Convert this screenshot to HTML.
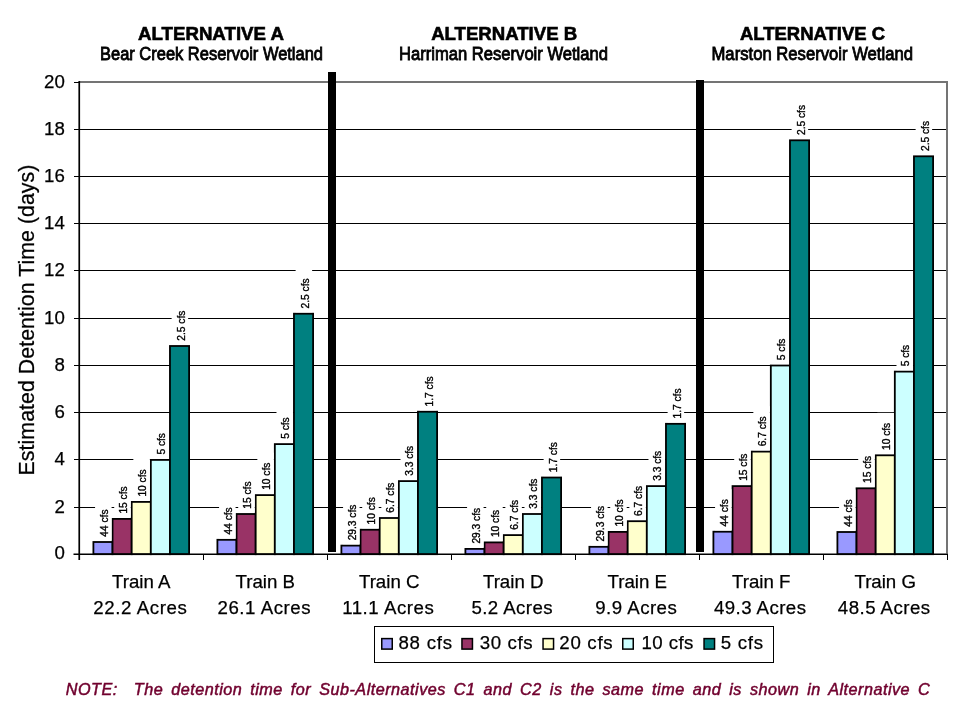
<!DOCTYPE html>
<html lang="en">
<head>
<meta charset="utf-8">
<title>Estimated Detention Time</title>
<style>
html,body{margin:0;padding:0;background:#fff;}
body{width:960px;height:720px;overflow:hidden;}
svg{display:block;}
text{font-family:"Liberation Sans",Arial,sans-serif;fill:#000;}
.ax{font-size:18.67px;stroke:#000;stroke-width:0.25px;}
.dl{font-size:10.2px;stroke:#000;stroke-width:0.35px;}
.tb{font-size:18.67px;font-weight:bold;stroke:#000;stroke-width:0.6px;}
.ts{font-size:18.67px;}
.note{font-size:16.2px;font-style:italic;fill:#70002e;stroke:#70002e;stroke-width:0.5px;letter-spacing:0.49px;word-spacing:3.05px;}
</style>
</head>
<body>
<svg width="960" height="720" viewBox="0 0 960 720">
<rect x="0" y="0" width="960" height="720" fill="#ffffff"/>
<g stroke="#000" stroke-width="1" shape-rendering="crispEdges">
<line x1="79" y1="507.5" x2="947" y2="507.5"/>
<line x1="79" y1="459.5" x2="947" y2="459.5"/>
<line x1="79" y1="412.5" x2="947" y2="412.5"/>
<line x1="79" y1="365.5" x2="947" y2="365.5"/>
<line x1="79" y1="318.5" x2="947" y2="318.5"/>
<line x1="79" y1="270.5" x2="947" y2="270.5"/>
<line x1="79" y1="223.5" x2="947" y2="223.5"/>
<line x1="79" y1="176.5" x2="947" y2="176.5"/>
<line x1="79" y1="129.5" x2="947" y2="129.5"/>
</g>
<g stroke="#747474" stroke-width="2" fill="none">
<line x1="79" y1="82" x2="948" y2="82"/>
<line x1="947" y1="81" x2="947" y2="553.4"/>
</g>
<g stroke="#000" stroke-width="1.8">
<rect x="93.40" y="542.00" width="19.14" height="12.20" fill="#9999FF"/>
<rect x="112.54" y="518.90" width="19.14" height="35.30" fill="#993366"/>
<rect x="131.68" y="501.90" width="19.14" height="52.30" fill="#FFFFCC"/>
<rect x="150.82" y="459.90" width="19.14" height="94.30" fill="#CCFFFF"/>
<rect x="169.96" y="346.00" width="19.14" height="208.20" fill="#008080"/>
</g>
<g stroke="#000" stroke-width="1.8">
<rect x="217.40" y="539.80" width="19.14" height="14.40" fill="#9999FF"/>
<rect x="236.54" y="514.00" width="19.14" height="40.20" fill="#993366"/>
<rect x="255.68" y="495.10" width="19.14" height="59.10" fill="#FFFFCC"/>
<rect x="274.82" y="444.10" width="19.14" height="110.10" fill="#CCFFFF"/>
<rect x="293.96" y="313.70" width="19.14" height="240.50" fill="#008080"/>
</g>
<g stroke="#000" stroke-width="1.8">
<rect x="341.40" y="545.60" width="19.14" height="8.60" fill="#9999FF"/>
<rect x="360.54" y="529.70" width="19.14" height="24.50" fill="#993366"/>
<rect x="379.68" y="518.00" width="19.14" height="36.20" fill="#FFFFCC"/>
<rect x="398.82" y="481.10" width="19.14" height="73.10" fill="#CCFFFF"/>
<rect x="417.96" y="411.70" width="19.14" height="142.50" fill="#008080"/>
</g>
<g stroke="#000" stroke-width="1.8">
<rect x="465.40" y="548.90" width="19.14" height="5.30" fill="#9999FF"/>
<rect x="484.54" y="542.40" width="19.14" height="11.80" fill="#993366"/>
<rect x="503.68" y="535.10" width="19.14" height="19.10" fill="#FFFFCC"/>
<rect x="522.82" y="514.00" width="19.14" height="40.20" fill="#CCFFFF"/>
<rect x="541.96" y="477.50" width="19.14" height="76.70" fill="#008080"/>
</g>
<g stroke="#000" stroke-width="1.8">
<rect x="589.40" y="546.80" width="19.14" height="7.40" fill="#9999FF"/>
<rect x="608.54" y="531.90" width="19.14" height="22.30" fill="#993366"/>
<rect x="627.68" y="521.20" width="19.14" height="33.00" fill="#FFFFCC"/>
<rect x="646.82" y="486.10" width="19.14" height="68.10" fill="#CCFFFF"/>
<rect x="665.96" y="423.80" width="19.14" height="130.40" fill="#008080"/>
</g>
<g stroke="#000" stroke-width="1.8">
<rect x="713.40" y="531.70" width="19.14" height="22.50" fill="#9999FF"/>
<rect x="732.54" y="486.10" width="19.14" height="68.10" fill="#993366"/>
<rect x="751.68" y="451.60" width="19.14" height="102.60" fill="#FFFFCC"/>
<rect x="770.82" y="365.50" width="19.14" height="188.70" fill="#CCFFFF"/>
<rect x="789.96" y="140.30" width="19.14" height="413.90" fill="#008080"/>
</g>
<g stroke="#000" stroke-width="1.8">
<rect x="837.40" y="532.00" width="19.14" height="22.20" fill="#9999FF"/>
<rect x="856.54" y="488.30" width="19.14" height="65.90" fill="#993366"/>
<rect x="875.68" y="455.30" width="19.14" height="98.90" fill="#FFFFCC"/>
<rect x="894.82" y="371.60" width="19.14" height="182.60" fill="#CCFFFF"/>
<rect x="913.96" y="156.30" width="19.14" height="397.90" fill="#008080"/>
</g>
<g stroke="#000" stroke-width="1.7">
<line x1="79.25" y1="81" x2="79.25" y2="560"/>
<line x1="73.5" y1="554.25" x2="948" y2="554.25"/>
<line x1="73.5" y1="507.5" x2="79" y2="507.5" stroke-width="1" shape-rendering="crispEdges"/>
<line x1="73.5" y1="459.5" x2="79" y2="459.5" stroke-width="1" shape-rendering="crispEdges"/>
<line x1="73.5" y1="412.5" x2="79" y2="412.5" stroke-width="1" shape-rendering="crispEdges"/>
<line x1="73.5" y1="365.5" x2="79" y2="365.5" stroke-width="1" shape-rendering="crispEdges"/>
<line x1="73.5" y1="318.5" x2="79" y2="318.5" stroke-width="1" shape-rendering="crispEdges"/>
<line x1="73.5" y1="270.5" x2="79" y2="270.5" stroke-width="1" shape-rendering="crispEdges"/>
<line x1="73.5" y1="223.5" x2="79" y2="223.5" stroke-width="1" shape-rendering="crispEdges"/>
<line x1="73.5" y1="176.5" x2="79" y2="176.5" stroke-width="1" shape-rendering="crispEdges"/>
<line x1="73.5" y1="129.5" x2="79" y2="129.5" stroke-width="1" shape-rendering="crispEdges"/>
<line x1="73.5" y1="82.5" x2="79" y2="82.5" stroke-width="1" shape-rendering="crispEdges"/>
<line x1="203.5" y1="554" x2="203.5" y2="560" stroke-width="1" shape-rendering="crispEdges"/>
<line x1="327.5" y1="554" x2="327.5" y2="560" stroke-width="1" shape-rendering="crispEdges"/>
<line x1="451.5" y1="554" x2="451.5" y2="560" stroke-width="1" shape-rendering="crispEdges"/>
<line x1="575.5" y1="554" x2="575.5" y2="560" stroke-width="1" shape-rendering="crispEdges"/>
<line x1="699.5" y1="554" x2="699.5" y2="560" stroke-width="1" shape-rendering="crispEdges"/>
<line x1="823.5" y1="554" x2="823.5" y2="560" stroke-width="1" shape-rendering="crispEdges"/>
<line x1="947.5" y1="554" x2="947.5" y2="560" stroke-width="1" shape-rendering="crispEdges"/>
</g>
<g fill="#fff">
<rect x="95.07" y="499.53" width="16.5" height="41.07"/>
<rect x="114.21" y="476.43" width="16.5" height="41.07"/>
<rect x="133.35" y="458.83" width="16.5" height="41.67"/>
<rect x="152.49" y="423.36" width="16.5" height="35.14"/>
<rect x="171.63" y="300.57" width="16.5" height="44.03"/>
<rect x="219.07" y="497.33" width="16.5" height="41.07"/>
<rect x="238.21" y="471.53" width="16.5" height="41.07"/>
<rect x="257.35" y="452.63" width="16.5" height="41.07"/>
<rect x="276.49" y="407.56" width="16.5" height="35.14"/>
<rect x="295.63" y="268.27" width="16.5" height="44.03"/>
<rect x="343.07" y="494.23" width="16.5" height="49.97"/>
<rect x="362.21" y="487.23" width="16.5" height="41.07"/>
<rect x="381.35" y="472.57" width="16.5" height="44.03"/>
<rect x="400.49" y="435.67" width="16.5" height="44.03"/>
<rect x="419.63" y="366.27" width="16.5" height="44.03"/>
<rect x="467.07" y="497.53" width="16.5" height="49.97"/>
<rect x="486.21" y="499.93" width="16.5" height="41.07"/>
<rect x="505.35" y="489.67" width="16.5" height="44.03"/>
<rect x="524.49" y="468.57" width="16.5" height="44.03"/>
<rect x="543.63" y="432.07" width="16.5" height="44.03"/>
<rect x="591.07" y="495.43" width="16.5" height="49.97"/>
<rect x="610.21" y="489.43" width="16.5" height="41.07"/>
<rect x="629.35" y="475.77" width="16.5" height="44.03"/>
<rect x="648.49" y="440.67" width="16.5" height="44.03"/>
<rect x="667.63" y="378.37" width="16.5" height="44.03"/>
<rect x="715.07" y="489.23" width="16.5" height="41.07"/>
<rect x="734.21" y="443.63" width="16.5" height="41.07"/>
<rect x="753.35" y="406.17" width="16.5" height="44.03"/>
<rect x="772.49" y="328.96" width="16.5" height="35.14"/>
<rect x="791.63" y="94.87" width="16.5" height="44.03"/>
<rect x="839.07" y="489.53" width="16.5" height="41.07"/>
<rect x="858.21" y="445.83" width="16.5" height="41.07"/>
<rect x="877.35" y="412.83" width="16.5" height="41.07"/>
<rect x="896.49" y="335.06" width="16.5" height="35.14"/>
<rect x="915.63" y="110.87" width="16.5" height="44.03"/>
</g>
<g class="dl">
<text class="dl" transform="translate(107.97 536.70) rotate(-90)">44 cfs</text>
<text class="dl" transform="translate(127.11 513.60) rotate(-90)">15 cfs</text>
<text class="dl" transform="translate(146.25 496.60) rotate(-90)">10 cfs</text>
<text class="dl" transform="translate(165.39 454.60) rotate(-90)">5 cfs</text>
<text class="dl" transform="translate(184.53 340.70) rotate(-90)">2.5 cfs</text>
<text class="dl" transform="translate(231.97 534.50) rotate(-90)">44 cfs</text>
<text class="dl" transform="translate(251.11 508.70) rotate(-90)">15 cfs</text>
<text class="dl" transform="translate(270.25 489.80) rotate(-90)">10 cfs</text>
<text class="dl" transform="translate(289.39 438.80) rotate(-90)">5 cfs</text>
<text class="dl" transform="translate(308.53 308.40) rotate(-90)">2.5 cfs</text>
<text class="dl" transform="translate(355.97 540.30) rotate(-90)">29.3 cfs</text>
<text class="dl" transform="translate(375.11 524.40) rotate(-90)">10 cfs</text>
<text class="dl" transform="translate(394.25 512.70) rotate(-90)">6.7 cfs</text>
<text class="dl" transform="translate(413.39 475.80) rotate(-90)">3.3 cfs</text>
<text class="dl" transform="translate(432.53 406.40) rotate(-90)">1.7 cfs</text>
<text class="dl" transform="translate(479.97 543.60) rotate(-90)">29.3 cfs</text>
<text class="dl" transform="translate(499.11 537.10) rotate(-90)">10 cfs</text>
<text class="dl" transform="translate(518.25 529.80) rotate(-90)">6.7 cfs</text>
<text class="dl" transform="translate(537.39 508.70) rotate(-90)">3.3 cfs</text>
<text class="dl" transform="translate(556.53 472.20) rotate(-90)">1.7 cfs</text>
<text class="dl" transform="translate(603.97 541.50) rotate(-90)">29.3 cfs</text>
<text class="dl" transform="translate(623.11 526.60) rotate(-90)">10 cfs</text>
<text class="dl" transform="translate(642.25 515.90) rotate(-90)">6.7 cfs</text>
<text class="dl" transform="translate(661.39 480.80) rotate(-90)">3.3 cfs</text>
<text class="dl" transform="translate(680.53 418.50) rotate(-90)">1.7 cfs</text>
<text class="dl" transform="translate(727.97 526.40) rotate(-90)">44 cfs</text>
<text class="dl" transform="translate(747.11 480.80) rotate(-90)">15 cfs</text>
<text class="dl" transform="translate(766.25 446.30) rotate(-90)">6.7 cfs</text>
<text class="dl" transform="translate(785.39 360.20) rotate(-90)">5 cfs</text>
<text class="dl" transform="translate(804.53 135.00) rotate(-90)">2.5 cfs</text>
<text class="dl" transform="translate(851.97 526.70) rotate(-90)">44 cfs</text>
<text class="dl" transform="translate(871.11 483.00) rotate(-90)">15 cfs</text>
<text class="dl" transform="translate(890.25 450.00) rotate(-90)">10 cfs</text>
<text class="dl" transform="translate(909.39 366.30) rotate(-90)">5 cfs</text>
<text class="dl" transform="translate(928.53 151.00) rotate(-90)">2.5 cfs</text>
</g>
<rect x="328" y="72" width="8" height="480" fill="#000"/>
<rect x="696" y="80" width="8" height="472" fill="#000"/>
<g class="ax" text-anchor="end">
<text class="ax" x="64.8" y="559.3">0</text>
<text class="ax" x="64.8" y="512.6">2</text>
<text class="ax" x="64.8" y="464.6">4</text>
<text class="ax" x="64.8" y="417.6">6</text>
<text class="ax" x="64.8" y="370.6">8</text>
<text class="ax" x="64.8" y="323.6">10</text>
<text class="ax" x="64.8" y="275.6">12</text>
<text class="ax" x="64.8" y="228.6">14</text>
<text class="ax" x="64.8" y="181.6">16</text>
<text class="ax" x="64.8" y="134.6">18</text>
<text class="ax" x="64.8" y="87.6">20</text>
</g>
<text transform="translate(34.0 475.4) rotate(-90)" style="font-size:21.33px;stroke:#000;stroke-width:0.25px" textLength="310.8" lengthAdjust="spacing">Estimated Detention Time (days)</text>
<g class="ax" text-anchor="middle">
<text class="ax" x="141.2" y="587.6">Train A</text>
<text class="ax" x="140.0" y="614" textLength="93.5" lengthAdjust="spacing">22.2 Acres</text>
<text class="ax" x="265.2" y="587.6">Train B</text>
<text class="ax" x="264.0" y="614" textLength="93" lengthAdjust="spacing">26.1 Acres</text>
<text class="ax" x="389.2" y="587.6">Train C</text>
<text class="ax" x="388.0" y="614" textLength="91.7" lengthAdjust="spacing">11.1 Acres</text>
<text class="ax" x="513.2" y="587.6">Train D</text>
<text class="ax" x="512.0" y="614" textLength="81" lengthAdjust="spacing">5.2 Acres</text>
<text class="ax" x="637.2" y="587.6">Train E</text>
<text class="ax" x="636.0" y="614" textLength="81.6" lengthAdjust="spacing">9.9 Acres</text>
<text class="ax" x="761.2" y="587.6">Train F</text>
<text class="ax" x="760.0" y="614" textLength="92" lengthAdjust="spacing">49.3 Acres</text>
<text class="ax" x="885.2" y="587.6">Train G</text>
<text class="ax" x="884.0" y="614" textLength="92.3" lengthAdjust="spacing">48.5 Acres</text>
</g>
<text class="tb" x="138" y="39.5" textLength="146" lengthAdjust="spacingAndGlyphs">ALTERNATIVE A</text>
<text class="ts" x="100" y="59.6" textLength="223" lengthAdjust="spacingAndGlyphs" stroke="#000" stroke-width="0.85">Bear Creek Reservoir Wetland</text>
<text class="tb" x="431.2" y="39.5" textLength="146" lengthAdjust="spacingAndGlyphs">ALTERNATIVE B</text>
<text class="ts" x="399" y="59.6" textLength="209" lengthAdjust="spacingAndGlyphs" stroke="#000" stroke-width="0.85">Harriman Reservoir Wetland</text>
<text class="tb" x="740" y="39.5" textLength="145" lengthAdjust="spacingAndGlyphs">ALTERNATIVE C</text>
<text class="ts" x="711.5" y="59.6" textLength="201.5" lengthAdjust="spacingAndGlyphs" stroke="#000" stroke-width="0.85">Marston Reservoir Wetland</text>
<rect x="374.5" y="626.5" width="399" height="35.5" fill="#fff" stroke="#000" stroke-width="1" shape-rendering="crispEdges"/>
<rect x="381.75" y="638.6" width="10.5" height="10.5" fill="#9999FF" stroke="#000" stroke-width="1.5"/>
<text class="ax" x="398.4" y="649.3" textLength="53.7" lengthAdjust="spacing">88 cfs</text>
<rect x="461.95" y="638.6" width="10.5" height="10.5" fill="#993366" stroke="#000" stroke-width="1.5"/>
<text class="ax" x="479.7" y="649.3" textLength="52.8" lengthAdjust="spacing">30 cfs</text>
<rect x="543.05" y="638.6" width="10.5" height="10.5" fill="#FFFFCC" stroke="#000" stroke-width="1.5"/>
<text class="ax" x="559.3" y="649.3" textLength="53.3" lengthAdjust="spacing">20 cfs</text>
<rect x="622.75" y="638.6" width="10.5" height="10.5" fill="#CCFFFF" stroke="#000" stroke-width="1.5"/>
<text class="ax" x="641.4" y="649.3" textLength="52" lengthAdjust="spacing">10 cfs</text>
<rect x="704.05" y="638.6" width="10.5" height="10.5" fill="#008080" stroke="#000" stroke-width="1.5"/>
<text class="ax" x="720.8" y="649.3" textLength="42.3" lengthAdjust="spacing">5 cfs</text>
<text class="note" x="65.8" y="694.8" xml:space="preserve" style="white-space:pre">NOTE:  The detention time for Sub-Alternatives C1 and C2 is the same time and is shown in Alternative C</text>
</svg>
</body>
</html>
